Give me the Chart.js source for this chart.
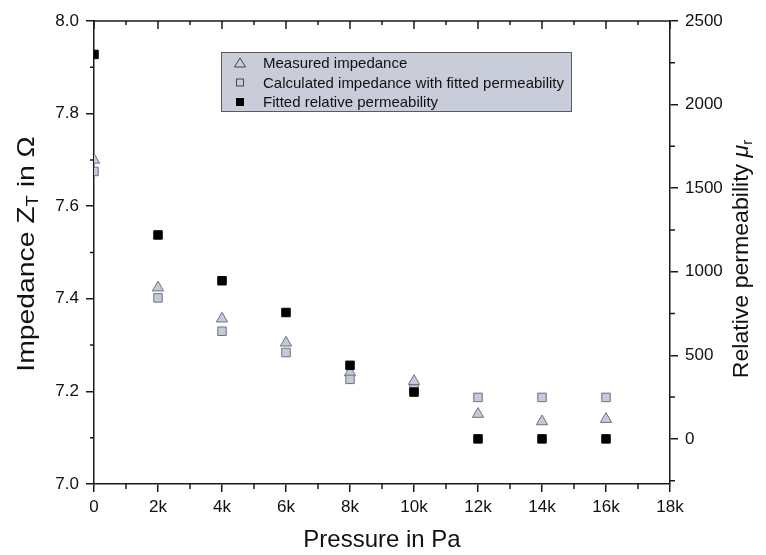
<!DOCTYPE html>
<html>
<head>
<meta charset="utf-8">
<script src="https://cdn.jsdelivr.net/npm/chart.js@4.4.1/dist/chart.umd.min.js"></script>
<style>
  html, body { margin: 0; padding: 0; background: #fff; }
  #wrap { width: 766px; height: 555px; }
</style>
</head>
<body>
<div id="wrap"><canvas id="chart"></canvas></div>
<script>
/* ── Data ── */
const pressure     = [0, 2000, 4000, 6000, 8000, 10000, 12000, 14000, 16000];
const measured     = [7.700, 7.424, 7.357, 7.305, 7.241, 7.222, 7.151, 7.135, 7.140];
const calculated   = [7.675, 7.402, 7.330, 7.284, 7.226, 7.205, 7.187, 7.187, 7.187];
const permeability = [2300, 1220, 946, 756, 440, 280, 0, 0, 0];

const seriesLabels = [
  'Measured impedance',
  'Calculated impedance with fitted permeability',
  'Fitted relative permeability'
];

/* major / minor tick values per axis */
const xMajor  = [0, 2000, 4000, 6000, 8000, 10000, 12000, 14000, 16000, 18000];
const xMinor  = [1000, 3000, 5000, 7000, 9000, 11000, 13000, 15000, 17000];
const yMajor  = [7.0, 7.2, 7.4, 7.6, 7.8, 8.0];
const yMinor  = [7.1, 7.3, 7.5, 7.7, 7.9];
const y1Major = [0, 500, 1000, 1500, 2000, 2500];
const y1Minor = [-250, 250, 750, 1250, 1750, 2250];

const FONT = '"Liberation Sans", Arial, sans-serif';
const MARK_FILL = '#c3cad9';
const MARK_EDGE = '#6e7080';
const AXIS = '#1a1a1a';

function points(ys) {
  return pressure.map((p, i) => ({ x: p, y: ys[i] }));
}

function fixedTicks(values) {
  return scale => { scale.ticks = values.map(v => ({ value: v })); };
}

/* ── Frame: minor ticks, top mirror axis ── */
const framePlugin = {
  id: 'frame',
  afterDraw(chart) {
    const ctx = chart.ctx;
    const a = chart.chartArea;
    const sx = chart.scales.x, sy = chart.scales.y, sy1 = chart.scales.y1;
    ctx.save();
    ctx.strokeStyle = AXIS;
    ctx.lineWidth = 1.5;
    ctx.beginPath();
    ctx.moveTo(a.left, a.top);
    ctx.lineTo(a.right, a.top);
    /* top axis: inward ticks */
    xMajor.forEach(v => {
      const px = sx.getPixelForValue(v);
      ctx.moveTo(px, a.top); ctx.lineTo(px, a.top + 8);
    });
    xMinor.forEach(v => {
      const px = sx.getPixelForValue(v);
      ctx.moveTo(px, a.top); ctx.lineTo(px, a.top + 4);
      ctx.moveTo(px, a.bottom); ctx.lineTo(px, a.bottom + 5);
    });
    yMinor.forEach(v => {
      const py = sy.getPixelForValue(v);
      ctx.moveTo(a.left, py); ctx.lineTo(a.left - 4, py);
    });
    y1Minor.forEach(v => {
      const py = sy1.getPixelForValue(v);
      ctx.moveTo(a.right, py); ctx.lineTo(a.right + 5, py);
    });
    ctx.stroke();
    ctx.restore();
  }
};

/* ── Axis titles with subscripts ── */
function drawParts(ctx, parts, size, stretch) {
  let total = 0;
  parts.forEach(p => {
    ctx.font = (p.italic ? 'italic ' : '') + (p.sub ? size * 0.65 : size) + 'px ' + FONT;
    p.w = ctx.measureText(p.t).width;
    total += p.w;
  });
  ctx.scale(stretch || 1, 1);
  let x = -total / 2;
  parts.forEach(p => {
    ctx.font = (p.italic ? 'italic ' : '') + (p.sub ? size * 0.65 : size) + 'px ' + FONT;
    ctx.fillText(p.t, x, p.sub ? size * 0.28 : 0);
    x += p.w;
  });
}

const titlePlugin = {
  id: 'titles',
  afterDraw(chart) {
    const ctx = chart.ctx;
    const a = chart.chartArea;
    ctx.save();
    ctx.fillStyle = '#111';
    ctx.textBaseline = 'middle';
    ctx.textAlign = 'left';

    ctx.save();
    ctx.translate(27, 254);
    ctx.rotate(-Math.PI / 2);
    drawParts(ctx, [{ t: 'Impedance Z' }, { t: 'T', sub: true }, { t: ' in Ω' }], 24, 1.18);
    ctx.restore();

    ctx.save();
    ctx.translate(742, 259);
    ctx.rotate(-Math.PI / 2);
    drawParts(ctx, [{ t: 'Relative permeability ' }, { t: 'μ', italic: true }, { t: 'r', sub: true }], 22, 1.05);
    ctx.restore();

    ctx.save();
    ctx.translate((a.left + a.right) / 2, 540);
    drawParts(ctx, [{ t: 'Pressure in Pa' }], 24, 1.0);
    ctx.restore();

    ctx.restore();
  }
};

/* ── Legend box inside the plot ── */
const legendPlugin = {
  id: 'boxLegend',
  afterDraw(chart) {
    const ctx = chart.ctx;
    const bx = 221, by = 52, bw = 350, bh = 59;
    ctx.save();
    ctx.fillStyle = '#c9cdd9';
    ctx.strokeStyle = '#5a5a5a';
    ctx.lineWidth = 1;
    ctx.fillRect(bx, by, bw, bh);
    ctx.strokeRect(bx + 0.5, by + 0.5, bw, bh);

    ctx.textBaseline = 'middle';
    ctx.font = '15px ' + FONT;
    seriesLabels.forEach((label, i) => {
      const cy = by + 11 + i * 19.5;
      const cx = bx + 19;
      ctx.lineWidth = 1;
      ctx.strokeStyle = '#444';
      if (i === 0) {
        ctx.beginPath();
        ctx.moveTo(cx, cy - 5);
        ctx.lineTo(cx + 5.5, cy + 4);
        ctx.lineTo(cx - 5.5, cy + 4);
        ctx.closePath();
        ctx.stroke();
      } else if (i === 1) {
        ctx.strokeRect(cx - 3.5, cy - 3.5, 7, 7);
      } else {
        ctx.fillStyle = '#000';
        ctx.fillRect(cx - 4, cy - 4, 8, 8);
      }
      ctx.fillStyle = '#111';
      ctx.fillText(label, bx + 42, cy + 1);
    });
    ctx.restore();
  }
};

const tickFont = { family: FONT, size: 17 };

new Chart(document.getElementById('chart'), {
  type: 'scatter',
  data: {
    datasets: [
      {
        label: seriesLabels[0],
        data: points(measured),
        yAxisID: 'y',
        pointStyle: 'triangle',
        pointRadius: 6.5,
        backgroundColor: MARK_FILL,
        borderColor: MARK_EDGE,
        borderWidth: 1,
        order: 2
      },
      {
        label: seriesLabels[1],
        data: points(calculated),
        yAxisID: 'y',
        pointStyle: 'rect',
        pointRadius: 6,
        backgroundColor: MARK_FILL,
        borderColor: MARK_EDGE,
        borderWidth: 1,
        order: 1
      },
      {
        label: seriesLabels[2],
        data: points(permeability),
        yAxisID: 'y1',
        pointStyle: 'rect',
        pointRadius: 6,
        backgroundColor: '#000',
        borderColor: '#000',
        borderWidth: 1,
        order: 0
      }
    ]
  },
  options: {
    responsive: true,
    maintainAspectRatio: false,
    animation: false,
    layout: { padding: { top: 21 } },
    plugins: {
      legend: { display: false },
      tooltip: { enabled: false }
    },
    scales: {
      x: {
        type: 'linear',
        min: 0,
        max: 18000,
        afterFit: s => { s.height = 71; },
        afterBuildTicks: fixedTicks(xMajor),
        border: { display: true, color: AXIS, width: 1.5 },
        grid: { drawOnChartArea: false, drawTicks: true, tickLength: 8, color: AXIS, lineWidth: 1.5 },
        ticks: {
          padding: 5,
          color: '#111',
          font: tickFont,
          maxRotation: 0,
          autoSkip: false,
          callback: v => v === 0 ? '0' : (v / 1000) + 'k'
        }
      },
      y: {
        position: 'left',
        min: 7.0,
        max: 8.0,
        afterFit: s => { s.width = 94; },
        afterBuildTicks: fixedTicks(yMajor),
        border: { display: true, color: AXIS, width: 1.5 },
        grid: { drawOnChartArea: false, drawTicks: true, tickLength: 8, color: AXIS, lineWidth: 1.5 },
        ticks: {
          padding: 7,
          color: '#111',
          font: tickFont,
          autoSkip: false,
          callback: v => v.toFixed(1)
        }
      },
      y1: {
        position: 'right',
        min: -270,
        max: 2500,
        afterFit: s => { s.width = 96; },
        afterBuildTicks: fixedTicks(y1Major),
        border: { display: true, color: AXIS, width: 1.5 },
        grid: { drawOnChartArea: false, drawTicks: true, tickLength: 8, color: AXIS, lineWidth: 1.5 },
        ticks: {
          padding: 7,
          color: '#111',
          font: tickFont,
          autoSkip: false,
          callback: v => String(v)
        }
      }
    }
  },
  plugins: [framePlugin, titlePlugin, legendPlugin]
});
</script>
</body>
</html>
